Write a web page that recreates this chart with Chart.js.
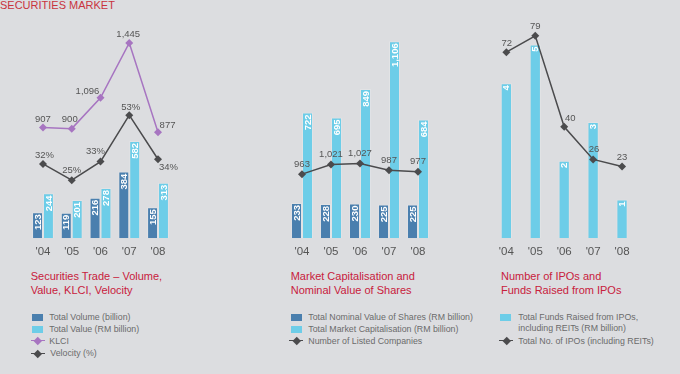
<!DOCTYPE html>
<html>
<head>
<meta charset="utf-8">
<script src="https://cdn.jsdelivr.net/npm/chart.js@4.4.0/dist/chart.umd.min.js"></script>
<style>
body { margin:0; width:680px; height:374px; overflow:hidden; position:relative;
  background:#dcdde0; font-family:"Liberation Sans", Arial, sans-serif; }
canvas { position:absolute; top:0; }
.main { position:absolute; left:0; top:0; margin:0; font-size:11px; line-height:11px;
  font-weight:normal; color:#c9343e; white-space:nowrap; }
.ttl { position:absolute; top:269px; font-size:11px; line-height:14.3px; color:#c8203c; white-space:nowrap; }
.row { position:absolute; height:12px; line-height:12px; font-size:8.8px; color:#6b6b6b; white-space:nowrap; }
.sw { position:absolute; width:11px; height:7.5px; top:2.3px; }
.ln { position:absolute; width:14px; height:12px; top:0; }
.ln:before { content:""; position:absolute; left:0; right:0; top:5.3px; height:1.5px; background:var(--c); }
.ln:after { content:""; position:absolute; left:4.3px; top:3.3px; width:5.5px; height:5.5px; background:var(--c); transform:rotate(45deg); }
.tx { position:absolute; }
</style>
</head>
<body>
<div class="main">SECURITIES MARKET</div>

<canvas id="c1" width="230" height="265" style="left:0"></canvas>
<canvas id="c2" width="230" height="265" style="left:230px"></canvas>
<canvas id="c3" width="220" height="265" style="left:460px"></canvas>

<div class="ttl" style="left:30.7px">Securities Trade – Volume,<br>Value, KLCI, Velocity</div>
<div class="ttl" style="left:290.7px">Market Capitalisation and<br>Nominal Value of Shares</div>
<div class="ttl" style="left:501px">Number of IPOs and<br>Funds Raised from IPOs</div>

<div class="row" style="left:32px;top:311.3px"><span class="sw" style="background:#4a7fae"></span><span class="tx" style="left:17.3px">Total Volume (billion)</span></div>
<div class="row" style="left:32px;top:323.3px"><span class="sw" style="background:#6dcde8"></span><span class="tx" style="left:17.3px">Total Value (RM billion)</span></div>
<div class="row" style="left:31px;top:334.7px"><span class="ln" style="--c:#a775c1"></span><span class="tx" style="left:18.3px">KLCI</span></div>
<div class="row" style="left:31px;top:347.3px"><span class="ln" style="--c:#4b4b4d"></span><span class="tx" style="left:19.3px">Velocity (%)</span></div>

<div class="row" style="left:291px;top:311.3px"><span class="sw" style="background:#4a7fae"></span><span class="tx" style="left:17.3px">Total Nominal Value of Shares (RM billion)</span></div>
<div class="row" style="left:291px;top:323.3px"><span class="sw" style="background:#6dcde8"></span><span class="tx" style="left:17.3px">Total Market Capitalisation (RM billion)</span></div>
<div class="row" style="left:289.3px;top:334.7px"><span class="ln" style="--c:#4b4b4d"></span><span class="tx" style="left:19px">Number of Listed Companies</span></div>

<div class="row" style="left:500.3px;top:311.3px"><span class="sw" style="background:#6dcde8"></span><span class="tx" style="left:18px">Total Funds Raised from IPOs,</span></div>
<div class="row" style="left:500.3px;top:322px"><span class="tx" style="left:18px">including REITs (RM billion)</span></div>
<div class="row" style="left:499.3px;top:334.7px"><span class="ln" style="--c:#4b4b4d"></span><span class="tx" style="left:19px">Total No. of IPOs (including REITs)</span></div>

<script>
const years = ["'04", "'05", "'06", "'07", "'08"];

// Securities trade
const tradeVolume = [123, 119, 216, 384, 155];
const tradeValue = [244, 201, 278, 582, 313];
const klci = [907, 900, 1096, 1445, 877];
const velocity = [32, 25, 33, 53, 34];

// Market capitalisation
const nominalValue = [233, 228, 230, 225, 225];
const marketCap = [722, 695, 849, 1106, 684];
const listedCompanies = [963, 1021, 1027, 987, 977];

// IPOs
const ipoFunds = [4, 5, 2, 3, 1];
const ipoCount = [72, 79, 40, 26, 23];

const FONT = '"Liberation Sans", Arial, sans-serif';
const DARK = '#4a7fae', LIGHT = '#6dcde8', PURPLE = '#a775c1', GREY = '#4b4b4d';

const fmt = v => v.toLocaleString('en-US');

// white rotated labels in bars, grey labels next to line points
const valueLabels = {
  id: 'valueLabels',
  afterDatasetsDraw(chart) {
    const ctx = chart.ctx;
    chart.data.datasets.forEach((ds, i) => {
      const meta = chart.getDatasetMeta(i);
      meta.data.forEach((el, j) => {
        const txt = fmt(ds.data[j]) + (ds.suffix || '');
        ctx.save();
        if (ds.type === 'bar') {
          ctx.translate(el.x + 0.5, el.y + 2);
          ctx.rotate(-Math.PI / 2);
          ctx.textAlign = 'right';
          ctx.textBaseline = 'middle';
          ctx.fillStyle = '#fff';
          ctx.font = 'bold 9.5px ' + FONT;
          ctx.fillText(txt, 0, 0);
        } else {
          const off = ds.offsets ? ds.offsets[j] : [0, -9.5];
          ctx.textAlign = 'center';
          ctx.textBaseline = 'middle';
          ctx.fillStyle = '#555';
          ctx.font = '9.5px ' + FONT;
          ctx.fillText(txt, el.x + off[0], el.y + off[1]);
        }
        ctx.restore();
      });
    });
  }
};

function bar(data, color, base, pct) {
  return { type: 'bar', data, backgroundColor: color, borderColor: 'rgba(255,255,255,0.18)',
    borderWidth: 1, base, categoryPercentage: pct, barPercentage: 1, yAxisID: 'y', order: 2 };
}

function line(data, color, axis, offsets, suffix) {
  return { type: 'line', data, borderColor: color, backgroundColor: color, borderWidth: 1.5,
    pointStyle: 'rectRot', pointRadius: 4, pointBorderWidth: 0, tension: 0, yAxisID: axis,
    order: 0, offsets, suffix };
}

function makeChart(id, datasets, scales, padding) {
  return new Chart(document.getElementById(id), {
    data: { labels: years, datasets },
    options: {
      responsive: false,
      animation: false,
      layout: { padding },
      plugins: { legend: { display: false }, tooltip: { enabled: false } },
      scales: Object.assign({
        x: {
          grid: { display: false, drawTicks: false },
          border: { display: false },
          ticks: { color: '#555', font: { size: 11.5, family: FONT }, padding: 6.5 }
        }
      }, scales)
    },
    plugins: [valueLabels]
  });
}

makeChart('c1', [
  bar(tradeVolume, DARK, -45, 0.76),
  bar(tradeValue, LIGHT, -45, 0.76),
  line(klci, PURPLE, 'y1', [[0, -8.5], [-2, -9], [-13, -6], [-1, -9], [9.5, -7]]),
  line(velocity, GREY, 'y2', [[1.5, -8.5], [0, -10], [-5, -10], [1.5, -8], [10.5, 8]], '%')
], {
  y: { display: false, min: -45, max: 1361 },
  y1: { display: false, min: 203, max: 1591 },
  y2: { display: false, min: 0, max: 94 }
}, { left: 28.6, right: 57.6, top: 20, bottom: 0 });

makeChart('c2', [
  bar(nominalValue, DARK, 43, 0.76),
  bar(marketCap, LIGHT, 43, 0.76),
  line(listedCompanies, GREY, 'y1', [[0, -10], [0, -10], [0, -10], [0, -9.5], [0, -10]])
], {
  y: { display: false, min: 43, max: 1221 },
  y1: { display: false, min: 580, max: 1885 }
}, { left: 57.5, right: 27.5, top: 20, bottom: 0 });

makeChart('c3', [
  bar(ipoFunds, LIGHT, 0, 0.39),
  line(ipoCount, GREY, 'y1', [[0.5, -9], [0, -9], [6, -8], [1, -10], [0, -9]])
], {
  y: { display: false, min: 0, max: 5.633 },
  y1: { display: false, min: -7.8, max: 85.8 }
}, { left: 31.9, right: 43.5, top: 20, bottom: 0 });
</script>
</body>
</html>
